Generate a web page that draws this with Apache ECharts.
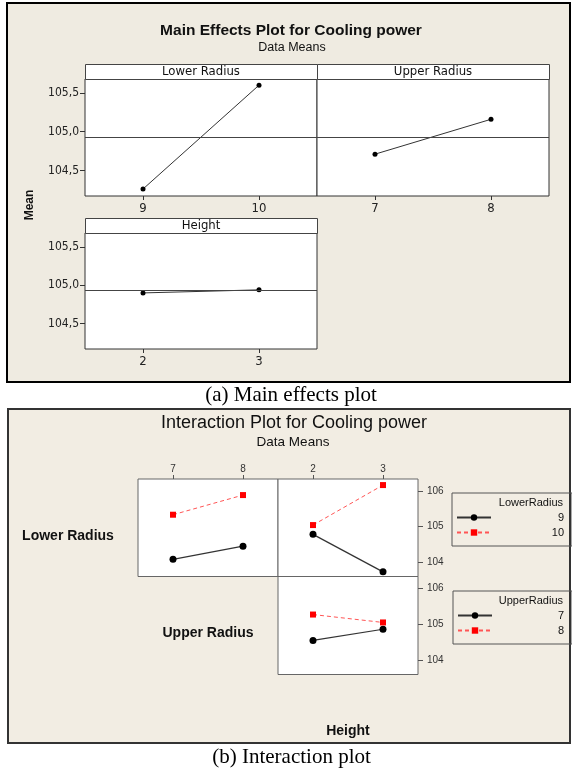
<!DOCTYPE html>
<html><head><meta charset="utf-8">
<script src="https://cdn.jsdelivr.net/npm/echarts@6/dist/echarts.min.js"></script>
<style>html,body{margin:0;padding:0;background:#fff}#c{width:572px;height:769px}</style>
</head><body><div id="c"></div>
<script>
// ---------- data ----------
const meTitle = 'Main Effects Plot for Cooling power';
const ixTitle = 'Interaction Plot for Cooling power';
const subTitle = 'Data Means';
const meFactors = ['Lower Radius', 'Upper Radius', 'Height'];
const ixFactors = ['Lower Radius', 'Upper Radius', 'Height'];
const lowerRadiusLevels = ['9', '10'];
const upperRadiusLevels = ['7', '8'];
const heightLevels = ['2', '3'];
const meLowerMeans = [104.26, 105.60];
const meUpperMeans = [104.71, 105.16];
const meHeightMeans = [104.90, 104.94];
const grandMean = 104.93;
const meTicks = [104.5, 105.0, 105.5];
const ixLR9_byUpper = [104.08, 104.45];
const ixLR10_byUpper = [105.33, 105.88];
const ixLR9_byHeight = [104.78, 103.73];
const ixLR10_byHeight = [105.04, 106.16];
const ixUR7_byHeight = [104.55, 104.86];
const ixUR8_byHeight = [105.27, 105.05];
const ixTicks = [104, 105, 106];
const legendTitles = ['LowerRadius', 'UpperRadius'];
const captions = ['(a) Main effects plot', '(b) Interaction plot'];

// ---------- layout / style ----------
const FONT_ME = "'Liberation Sans Narrow','DejaVu Sans Condensed','Arial Narrow','Liberation Sans',sans-serif";
const FONT_IX = "'Liberation Sans','Arial',sans-serif";
const ME = {
  A: {left: 85, top: 79, width: 232, height: 117},
  B: {left: 317, top: 79, width: 232, height: 117},
  C: {left: 85, top: 233, width: 232, height: 116}
};
const STRIP = 15;
const IX = {
  G1: {left: 138, top: 479, width: 140, height: 97.5},
  G2: {left: 278, top: 479, width: 140, height: 97.5},
  G3: {left: 278, top: 576.5, width: 140, height: 98}
};

const chart = echarts.init(document.getElementById('c'), null, {renderer: 'canvas'});

function meGrid(g) { return Object.assign({show: true, backgroundColor: '#fff', borderColor: '#333', borderWidth: 1}, g); }
function ixGrid(g) { return Object.assign({show: true, backgroundColor: '#fff', borderColor: '#666', borderWidth: 1}, g); }

function meX(i, data) {
  return {gridIndex: i, type: 'category', data: data, position: 'bottom', boundaryGap: true,
    axisLine: {show: false}, splitLine: {show: false},
    axisTick: {show: true, alignWithLabel: true, length: 4, lineStyle: {color: '#333'}},
    axisLabel: {margin: 6, color: '#222', fontFamily: FONT_ME, fontSize: 13}};
}
function meY(i, show) {
  return {gridIndex: i, type: 'value', min: 104.17, max: 105.68, position: 'left',
    axisLine: {show: false}, splitLine: {show: false},
    axisTick: {show: show, customValues: meTicks, length: 5, lineStyle: {color: '#333'}},
    axisLabel: {show: show, customValues: meTicks, margin: 6, color: '#222', fontFamily: FONT_ME, fontSize: 12,
      formatter: v => Number(v).toFixed(1).replace('.', ',')}};
}
function ixX(i, data, show) {
  return {gridIndex: i, type: 'category', data: data, position: 'top', boundaryGap: true,
    axisLine: {show: false}, splitLine: {show: false},
    axisTick: {show: show, alignWithLabel: true, length: 4, lineStyle: {color: '#555'}},
    axisLabel: {show: show, margin: 5, color: '#333', fontFamily: FONT_IX, fontSize: 10}};
}
function ixY(i, show) {
  return {gridIndex: i, type: 'value', min: 103.6, max: 106.33, position: 'right',
    axisLine: {show: false}, splitLine: {show: false},
    axisTick: {show: show, customValues: ixTicks, length: 5, lineStyle: {color: '#555'}},
    axisLabel: {show: show, customValues: ixTicks, margin: 9, color: '#333', fontFamily: FONT_IX, fontSize: 10}};
}

function meSeries(name, i, data) {
  return {name: name, type: 'line', xAxisIndex: i, yAxisIndex: i, data: data,
    symbol: 'circle', symbolSize: 5, itemStyle: {color: '#000'}, lineStyle: {color: '#333', width: 1},
    markLine: {silent: true, symbol: 'none', label: {show: false}, animation: false,
      lineStyle: {color: '#444', type: 'solid', width: 1}, data: [{yAxis: grandMean}]}};
}
function blackSeries(name, i, data) {
  return {name: name, type: 'line', xAxisIndex: i, yAxisIndex: i, data: data,
    symbol: 'circle', symbolSize: 7, itemStyle: {color: '#000'}, lineStyle: {color: '#333', width: 1.2}};
}
function redSeries(name, i, data) {
  return {name: name, type: 'line', xAxisIndex: i, yAxisIndex: i, data: data,
    symbol: 'rect', symbolSize: 6, itemStyle: {color: '#ff0000'}, lineStyle: {color: '#ff5555', width: 1, type: [4, 3]}};
}

function txt(text, x, y, font, opts) {
  return Object.assign({type: 'text', x: x, y: y, z: 20,
    style: Object.assign({text: text, font: font, fill: '#111', align: 'center', verticalAlign: 'middle'}, (opts && opts.style) || {})},
    opts && opts.rotation ? {rotation: opts.rotation} : {});
}
function stripRect(g) {
  return {type: 'rect', z: 15, shape: {x: g.left + 0.5, y: g.top - STRIP + 0.5, width: g.width, height: STRIP},
    style: {fill: '#fff', stroke: '#444', lineWidth: 1}};
}

const graphics = [
  {type: 'rect', z: -10, shape: {x: 7, y: 3, width: 563, height: 379}, style: {fill: '#EFEBE1', stroke: '#000', lineWidth: 2}},
  {type: 'rect', z: -10, shape: {x: 8, y: 409, width: 562, height: 334}, style: {fill: '#F2EDE3', stroke: '#333', lineWidth: 2}},
  stripRect(ME.A), stripRect(ME.B), stripRect(ME.C),
  txt(meFactors[0], ME.A.left + ME.A.width / 2, ME.A.top - STRIP / 2 + 0.5, "13px " + FONT_ME),
  txt(meFactors[1], ME.B.left + ME.B.width / 2, ME.B.top - STRIP / 2 + 0.5, "13px " + FONT_ME),
  txt(meFactors[2], ME.C.left + ME.C.width / 2, ME.C.top - STRIP / 2 + 0.5, "13px " + FONT_ME),
  txt(meTitle, 291, 31, "bold 15.5px 'Liberation Sans',sans-serif"),
  txt(subTitle, 292, 48, "12.5px 'Liberation Sans',sans-serif"),
  txt('Mean', 30, 205, "bold 12px 'Liberation Sans',sans-serif", {rotation: Math.PI / 2}),
  txt(captions[0], 291, 395, "21px 'Liberation Serif','Times New Roman',serif", {style: {fill: '#000'}}),
  txt(ixTitle, 294, 423, "18px " + FONT_IX),
  txt(subTitle, 293, 442, "13.5px " + FONT_IX),
  txt(ixFactors[0], 68, 536, "bold 14px " + FONT_IX),
  txt(ixFactors[1], 208, 633, "bold 14px " + FONT_IX),
  txt(ixFactors[2], 348, 731, "bold 14px " + FONT_IX),
  txt(legendTitles[0], 563, 503, "11px " + FONT_IX, {style: {align: 'right'}}),
  txt(legendTitles[1], 563, 601, "11px " + FONT_IX, {style: {align: 'right'}}),
  txt(captions[1], 291.5, 757, "21px 'Liberation Serif','Times New Roman',serif", {style: {fill: '#000'}})
];

function legendOf(data, left, top, w) {
  return {data: data, orient: 'vertical', left: left, top: top, padding: [18, 8, 7, 4], itemGap: 2,
    itemWidth: 34, itemHeight: 8, borderColor: '#555', borderWidth: 1, backgroundColor: 'transparent',
    selectedMode: false,
    formatter: n => '{r|' + n + '}',
    textStyle: {fontFamily: FONT_IX, fontSize: 11, color: '#111', lineHeight: 13,
      rich: {r: {width: w, align: 'right', fontSize: 11, lineHeight: 13, fontFamily: FONT_IX}}}};
}

const option = {
  animation: false,
  backgroundColor: '#fff',
  grid: [meGrid(ME.A), meGrid(ME.B), meGrid(ME.C), ixGrid(IX.G1), ixGrid(IX.G2), ixGrid(IX.G3)],
  xAxis: [meX(0, lowerRadiusLevels), meX(1, upperRadiusLevels), meX(2, heightLevels),
    ixX(3, upperRadiusLevels, true), ixX(4, heightLevels, true), ixX(5, heightLevels, false)],
  yAxis: [meY(0, true), meY(1, false), meY(2, true), ixY(3, false), ixY(4, true), ixY(5, true)],
  legend: [legendOf(lowerRadiusLevels, 452, 493, 68), legendOf(upperRadiusLevels, 453, 591, 67)],
  series: [
    meSeries('ME Lower Radius', 0, meLowerMeans),
    meSeries('ME Upper Radius', 1, meUpperMeans),
    meSeries('ME Height', 2, meHeightMeans),
    blackSeries(lowerRadiusLevels[0], 3, ixLR9_byUpper),
    redSeries(lowerRadiusLevels[1], 3, ixLR10_byUpper),
    blackSeries(lowerRadiusLevels[0], 4, ixLR9_byHeight),
    redSeries(lowerRadiusLevels[1], 4, ixLR10_byHeight),
    blackSeries(upperRadiusLevels[0], 5, ixUR7_byHeight),
    redSeries(upperRadiusLevels[1], 5, ixUR8_byHeight)
  ],
  graphic: {elements: graphics}
};
chart.setOption(option);
</script>
</body></html>
